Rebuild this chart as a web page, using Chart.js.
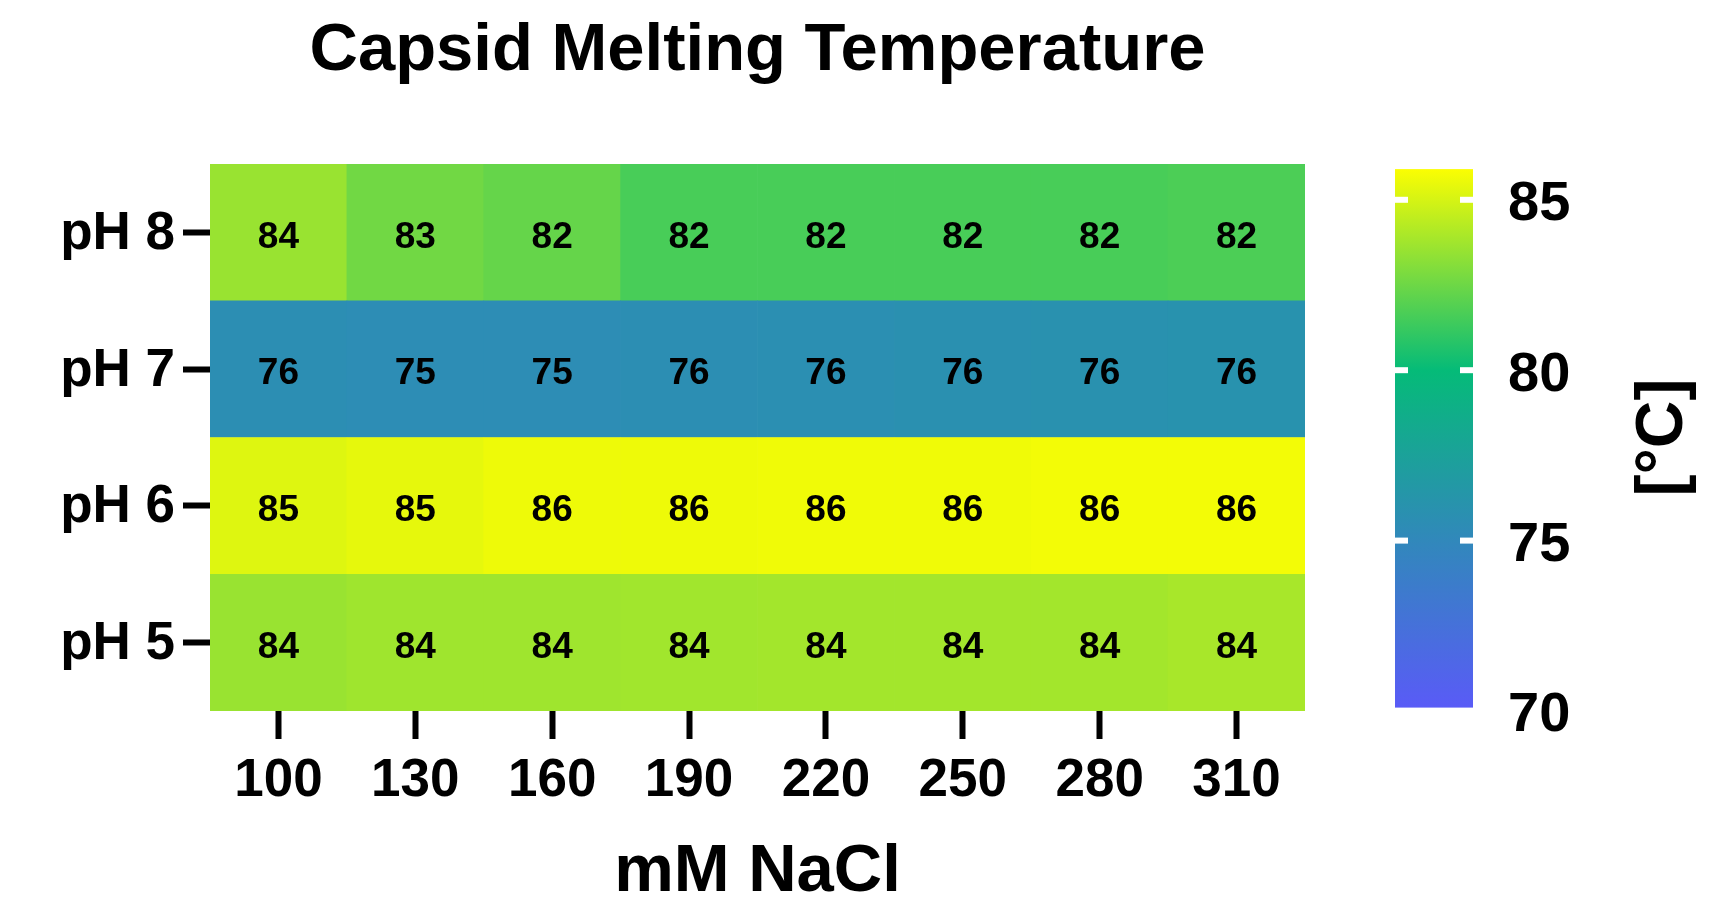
<!DOCTYPE html>
<html>
<head>
<meta charset="utf-8">
<script src="https://cdn.jsdelivr.net/npm/chart.js@4.4.1/dist/chart.umd.min.js"></script>
<style>
html,body{margin:0;padding:0;background:#ffffff;overflow:hidden}
#wrap{width:1717px;height:901px;position:relative}
</style>
</head>
<body>
<div id="wrap"><canvas id="c" width="1717" height="901"></canvas></div>
<script>
// ---- data ----
const naclLabels = ['100', '130', '160', '190', '220', '250', '280', '310'];
const phLabels = ['pH 5', 'pH 6', 'pH 7', 'pH 8'];          // bottom to top
const tmPH5 = [83.55, 83.7, 83.7, 83.75, 83.8, 83.8, 83.8, 83.9];
const tmPH6 = [85.2, 85.4, 85.6, 85.6, 85.65, 85.65, 85.7, 85.7];
const tmPH7 = [75.6, 75.45, 75.45, 75.6, 75.7, 75.8, 75.9, 76.0];
const tmPH8 = [83.55, 82.6, 82.3, 81.6, 81.6, 81.6, 81.6, 81.7];
const tmRows = [tmPH5, tmPH6, tmPH7, tmPH8];
const colorbarTicks = [70, 75, 80, 85];
const colorbarAxisRange = [70, 86.05];
const colorbarExtent = [70.1, 85.9];
const chartTitle = 'Capsid Melting Temperature';
const xTitle = 'mM NaCl';
const legendTitle = '[°C]';

// ---- colour scale (style) ----
const colorStops = [[70, '#5a5af8'], [75, '#3188bb'], [80, '#05bb78'], [86, '#ffff00']];
function hexToRgb(h){return [parseInt(h.slice(1,3),16),parseInt(h.slice(3,5),16),parseInt(h.slice(5,7),16)];}
function colorFor(v){
  if (v <= colorStops[0][0]) return colorStops[0][1];
  for (let k = 1; k < colorStops.length; k++){
    const [v1,c1] = colorStops[k-1], [v2,c2] = colorStops[k];
    if (v <= v2){
      const t = (v - v1) / (v2 - v1);
      const a = hexToRgb(c1), b = hexToRgb(c2);
      const r = a.map((x,i)=>Math.round(x + (b[i]-x)*t));
      return 'rgb(' + r.join(',') + ')';
    }
  }
  return colorStops[colorStops.length-1][1];
}

const FONT = '"Liberation Sans", Arial, Helvetica, sans-serif';
Chart.defaults.font.family = FONT;
Chart.defaults.font.weight = 'bold';
Chart.defaults.color = '#000000';

const datasets = tmRows.map((row, i) => ({
  label: phLabels[i],
  data: row.map((t, j) => ({x: naclLabels[j], y: [i, i + 1], t: t})),
  backgroundColor: ctx => colorFor(ctx.raw ? ctx.raw.t : 80),
  borderWidth: 0,
  barPercentage: 1,
  categoryPercentage: 1,
  grouped: false
}));

const decor = {
  id: 'decor',
  afterDatasetsDraw(chart){
    const ctx = chart.ctx;
    ctx.save();
    ctx.fillStyle = '#000';
    ctx.font = 'bold 37px ' + FONT;
    ctx.textAlign = 'center';
    ctx.textBaseline = 'middle';
    chart.data.datasets.forEach((ds, i) => {
      const meta = chart.getDatasetMeta(i);
      meta.data.forEach((el, j) => {
        const cy = (el.y + el.base) / 2;
        ctx.fillText(String(Math.round(ds.data[j].t)), el.x, cy + 5);
      });
    });
    ctx.restore();
  },
  afterDraw(chart){
    const ctx = chart.ctx, ca = chart.chartArea, cb = chart.scales.cb;
    ctx.save();
    // title
    ctx.fillStyle = '#000';
    ctx.font = 'bold 67px ' + FONT;
    ctx.textAlign = 'center';
    ctx.textBaseline = 'alphabetic';
    ctx.fillText(chartTitle, (ca.left + ca.right) / 2, 70);
    // colour bar
    const x0 = ca.right + 90, w = 78;
    const yTop = cb.getPixelForValue(colorbarExtent[1]);
    const yBot = cb.getPixelForValue(colorbarExtent[0]);
    const v0 = colorStops[0][0], v1 = colorStops[colorStops.length - 1][0];
    const g = ctx.createLinearGradient(0, cb.getPixelForValue(v0), 0, cb.getPixelForValue(v1));
    colorStops.forEach(([v, c]) => g.addColorStop((v - v0) / (v1 - v0), c));
    ctx.fillStyle = g;
    ctx.fillRect(x0, yTop, w, yBot - yTop);
    ctx.fillStyle = '#ffffff';
    colorbarTicks.forEach(v => {
      const y = cb.getPixelForValue(v);
      ctx.fillRect(x0, y - 3, 13, 6);
      ctx.fillRect(x0 + w - 13, y - 3, 13, 6);
    });
    // legend title
    ctx.fillStyle = '#000';
    ctx.font = 'bold 66px ' + FONT;
    ctx.translate(ca.right + 359, (ca.top + ca.bottom) / 2);
    ctx.rotate(-Math.PI / 2);
    ctx.textAlign = 'center';
    ctx.textBaseline = 'middle';
    ctx.fillText(legendTitle, 0, 0);
    ctx.restore();
  }
};

new Chart(document.getElementById('c'), {
  type: 'bar',
  data: {labels: naclLabels, datasets: datasets},
  options: {
    responsive: false,
    animation: false,
    devicePixelRatio: 1,
    layout: {padding: {top: 164, left: 0, right: 0, bottom: 0}},
    plugins: {legend: {display: false}, tooltip: {enabled: false}, title: {display: false}},
    scales: {
      x: {
        type: 'category',
        offset: true,
        grid: {display: true, drawOnChartArea: false, drawTicks: true, tickLength: 28, tickWidth: 6, tickColor: '#000', offset: false},
        border: {display: false},
        ticks: {font: {size: 53, weight: 'bold'}, color: '#000', padding: 11, maxRotation: 0, autoSkip: false},
        title: {display: true, text: xTitle, color: '#000', font: {size: 67, weight: 'bold', lineHeight: 0.85}, padding: 0},
        afterFit: s => { s.height = 190; }
      },
      y: {
        type: 'linear',
        position: 'left',
        min: 0, max: phLabels.length,
        afterBuildTicks: s => { s.ticks = phLabels.map((_, i) => ({value: i + 0.5})); },
        grid: {display: true, drawOnChartArea: false, drawTicks: true, tickLength: 27, tickWidth: 6, tickColor: '#000'},
        border: {display: false},
        ticks: {font: {size: 53, weight: 'bold'}, color: '#000', padding: 8, labelOffset: 2, callback: (v, i) => phLabels[i]},
        afterFit: s => { s.width = 210; }
      },
      cb: {
        type: 'linear',
        position: 'right',
        min: colorbarAxisRange[0], max: colorbarAxisRange[1],
        afterBuildTicks: s => { s.ticks = colorbarTicks.map(v => ({value: v})); },
        grid: {display: true, drawOnChartArea: false, drawTicks: true, tickLength: 203, tickColor: 'rgba(0,0,0,0)'},
        border: {display: false},
        ticks: {font: {size: 56, weight: 'bold'}, color: '#000', padding: 0, labelOffset: 5},
        afterFit: s => { s.width = 412; }
      }
    }
  },
  plugins: [decor]
});
</script>
</body>
</html>
